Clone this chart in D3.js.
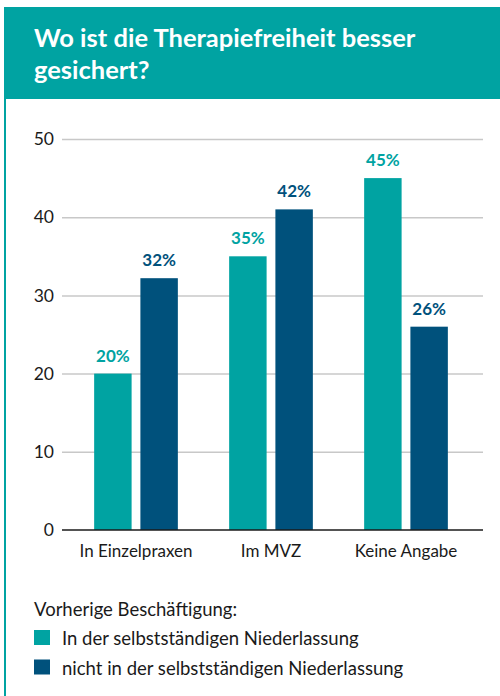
<!DOCTYPE html>
<html lang="de">
<head>
    <meta charset="UTF-8">
    <title>Therapiefreiheit</title>
    <style>
        body { margin: 0; background: #fff; }
        svg { display: block; font-family: "Source Sans Pro", Lato, sans-serif; }
        .grid line { stroke: #c8c8c8; stroke-width: 1.5; }
        .grid path { display: none; }
        .tick-label { fill: #1a1a1a; font-size: 17.5px; }
        .cat-label { fill: #1a1a1a; font-size: 17px; }
        .value-label { font-size: 17px; font-weight: bold; }
        .legend text { fill: #1a1a1a; font-size: 18.5px; }
    </style>
</head>
<body>
    <svg></svg>
</body>
<script src="https://d3js.org/d3.v7.min.js"></script>
<script>
    var titleLines = ["Wo ist die Therapiefreiheit besser", "gesichert?"];
    var categories = ["In Einzelpraxen", "Im MVZ", "Keine Angabe"];
    var seriesNames = ["In der selbstständigen Niederlassung", "nicht in der selbstständigen Niederlassung"];
    var selbststaendig = [20, 35, 45];
    var nichtSelbststaendig = [32.2, 41, 26];
    var labelsSelbst = ["20%", "35%", "45%"];
    var labelsNicht = ["32%", "42%", "26%"];
    var yTicks = [0, 10, 20, 30, 40, 50];
    var legendTitle = "Vorherige Beschäftigung:";

    var teal = "#00a3a2";
    var navy = "#00517c";
    var width = 500, height = 696;

    var svg = d3.select("svg")
        .attr("width", width)
        .attr("height", height);

    // Kopfbereich
    svg.append("rect")
        .attr("x", 4).attr("y", 7)
        .attr("width", width - 4).attr("height", 92)
        .attr("fill", teal);
    svg.append("rect")
        .attr("x", 4).attr("y", 7)
        .attr("width", 2).attr("height", height - 7)
        .attr("fill", teal);

    svg.append("text")
        .attr("x", 34)
        .attr("fill", "#fff")
        .attr("font-size", 25.5)
        .attr("font-weight", "bold")
        .selectAll("tspan")
        .data(titleLines)
        .enter()
        .append("tspan")
        .attr("x", 34)
        .attr("y", (d, i) => 47 + i * 32)
        .text(d => d);

    var y = d3.scaleLinear()
        .domain([0, 50])
        .range([530, 139]);

    var x0 = d3.scaleBand()
        .domain(categories)
        .range([68.5, 473.5])
        .paddingInner(0.38)
        .paddingOuter(0.19);

    // Gitterlinien
    svg.append("g")
        .attr("class", "grid")
        .attr("transform", "translate(62,0)")
        .call(d3.axisRight(y).tickValues(yTicks.slice(1)).tickSize(421).tickFormat(""));

    svg.append("g")
        .selectAll("text")
        .data(yTicks)
        .enter()
        .append("text")
        .attr("class", "tick-label")
        .attr("x", 54)
        .attr("y", d => y(d))
        .attr("dy", "0.35em")
        .attr("text-anchor", "end")
        .text(d => d);

    var rows = categories.map((c, i) => ({
        cat: c,
        bars: [
            { key: 0, value: selbststaendig[i], label: labelsSelbst[i], color: teal },
            { key: 1, value: nichtSelbststaendig[i], label: labelsNicht[i], color: navy }
        ]
    }));

    var x1 = d3.scaleBand()
        .domain([0, 1])
        .range([0, x0.bandwidth()])
        .paddingInner(0.19);

    var groups = svg.append("g")
        .selectAll("g")
        .data(rows)
        .enter()
        .append("g")
        .attr("transform", d => "translate(" + x0(d.cat) + ",0)");

    groups.selectAll("rect")
        .data(d => d.bars)
        .enter()
        .append("rect")
        .attr("x", d => x1(d.key))
        .attr("y", d => y(d.value))
        .attr("width", x1.bandwidth())
        .attr("height", d => y(0) - y(d.value))
        .attr("fill", d => d.color);

    groups.selectAll(".value-label")
        .data(d => d.bars)
        .enter()
        .append("text")
        .attr("class", "value-label")
        .attr("x", d => x1(d.key) + x1.bandwidth() / 2)
        .attr("y", d => y(d.value) - 12)
        .attr("text-anchor", "middle")
        .attr("fill", d => d.color)
        .text(d => d.label);

    // Grundlinie
    svg.append("line")
        .attr("x1", 62).attr("x2", 483)
        .attr("y1", y(0)).attr("y2", y(0))
        .attr("stroke", "#1a1a1a")
        .attr("stroke-width", 1.5);

    svg.append("g")
        .selectAll("text")
        .data(categories)
        .enter()
        .append("text")
        .attr("class", "cat-label")
        .attr("x", d => x0(d) + x0.bandwidth() / 2)
        .attr("y", 557)
        .attr("text-anchor", "middle")
        .text(d => d);

    // Legende
    var legend = svg.append("g").attr("class", "legend");
    legend.append("text")
        .attr("x", 34).attr("y", 615.5)
        .text(legendTitle);

    var items = legend.selectAll("g")
        .data(seriesNames)
        .enter()
        .append("g")
        .attr("transform", (d, i) => "translate(34," + (630 + i * 29.5) + ")");
    items.append("rect")
        .attr("width", 16).attr("height", 15)
        .attr("fill", (d, i) => i === 0 ? teal : navy);
    items.append("text")
        .attr("x", 28).attr("y", 15)
        .text(d => d);
</script>
</html>
